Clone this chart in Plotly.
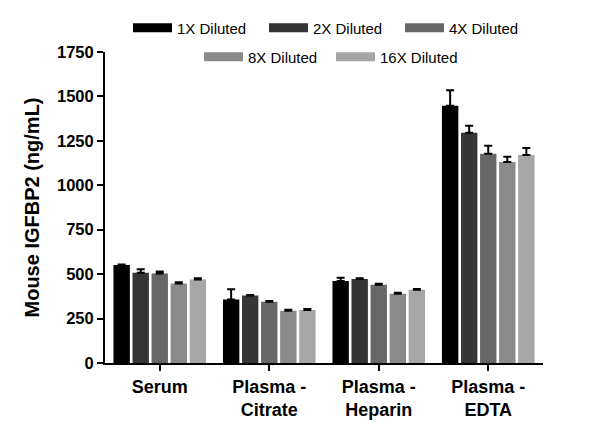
import plotly.graph_objects as go

categories = ["Serum", "Plasma -<br>Citrate", "Plasma -<br>Heparin", "Plasma -<br>EDTA"]
series_names = ["1X Diluted", "2X Diluted", "4X Diluted", "8X Diluted", "16X Diluted"]
colors = ["#000000", "#353535", "#676767", "#8a8a8a", "#a6a6a6"]

vals_1x = [551, 358, 461, 1448]
vals_2x = [508, 380, 473, 1296]
vals_4x = [504, 345, 441, 1178]
vals_8x = [448, 294, 390, 1131]
vals_16x = [470, 298, 412, 1170]

err_1x = [3, 57, 19, 87]
err_2x = [19, 3, 4, 39]
err_4x = [11, 4, 5, 45]
err_8x = [6, 6, 5, 30]
err_16x = [7, 6, 5, 40]

values = [vals_1x, vals_2x, vals_4x, vals_8x, vals_16x]
errors = [err_1x, err_2x, err_4x, err_8x, err_16x]

FONT = "Liberation Sans, Arial, sans-serif"
W, H = 592, 435

fig = go.Figure()
for name, col, v, e in zip(series_names, colors, values, errors):
    fig.add_trace(go.Bar(
        x=categories, y=v, name=name, showlegend=False,
        marker=dict(color=col, line=dict(width=0)),
        error_y=dict(type="data", symmetric=False, array=e, arrayminus=[0] * len(e),
                     color="#000000", thickness=2, width=4),
    ))

for i, (name, col) in enumerate(zip(series_names, colors)):
    fig.add_trace(go.Scatter(
        x=[None], y=[None], mode="lines", name=name,
        line=dict(color=col, width=9),
        legend="legend" if i < 3 else "legend2",
        showlegend=True,
    ))

fig.update_layout(
    width=W, height=H,
    margin=dict(l=97, r=57, t=44, b=80, autoexpand=False),
    paper_bgcolor="white", plot_bgcolor="white",
    barmode="group", bargap=0.13, bargroupgap=0.14,
    font=dict(family=FONT, color="#000000"),
    legend=dict(orientation="h", xref="container", yref="container",
                x=120 / W, xanchor="left", y=1 - 20 / H, yanchor="middle",
                font=dict(size=15, family=FONT), itemwidth=39,
                entrywidth=82, entrywidthmode="pixels",
                bgcolor="rgba(0,0,0,0)"),
    legend2=dict(orientation="h", xref="container", yref="container",
                 x=191 / W, xanchor="left", y=1 - 49 / H, yanchor="middle",
                 font=dict(size=15, family=FONT), itemwidth=39,
                 entrywidth=78, entrywidthmode="pixels",
                 bgcolor="rgba(0,0,0,0)"),
    xaxis=dict(showline=True, linecolor="black", linewidth=2, ticks="outside",
               ticklen=6, tickwidth=2, tickcolor="black", automargin=False,
               tickfont=dict(size=18, family=FONT, weight="bold"),
               range=[-0.5, 3.5], showgrid=False, zeroline=False),
    yaxis=dict(showline=True, linecolor="black", linewidth=2, ticks="outside",
               ticklen=6, tickwidth=2, tickcolor="black", automargin=False,
               tickfont=dict(size=16.5, family=FONT, weight="bold"),
               range=[0, 1750], tickvals=[0, 250, 500, 750, 1000, 1250, 1500, 1750],
               showgrid=False, zeroline=False,
               title=dict(text="Mouse IGFBP2 (ng/mL)", font=dict(size=20, family=FONT, weight="bold"),
                          standoff=12)),
)

fig.write_html("out.html")
